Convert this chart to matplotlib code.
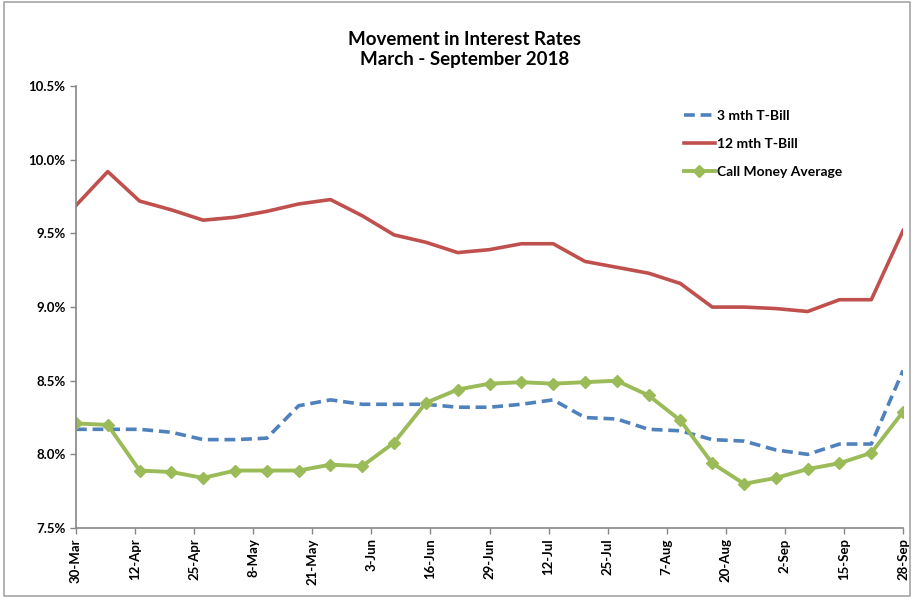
import matplotlib.pyplot as plt
import pandas as pd
from matplotlib.patches import Rectangle

plt.rcParams['font.family'] = ['Lato', 'DejaVu Sans']

dates = ["2018-03-30", "2018-04-06", "2018-04-13", "2018-04-20", "2018-04-27",
         "2018-05-04", "2018-05-11", "2018-05-18", "2018-05-25", "2018-06-01",
         "2018-06-08", "2018-06-15", "2018-06-22", "2018-06-29", "2018-07-06",
         "2018-07-13", "2018-07-20", "2018-07-27", "2018-08-03", "2018-08-10",
         "2018-08-17", "2018-08-24", "2018-08-31", "2018-09-07", "2018-09-14",
         "2018-09-21", "2018-09-28"]

tbill_3m = [8.17, 8.17, 8.17, 8.15, 8.10, 8.10, 8.11, 8.33, 8.37, 8.34,
            8.34, 8.34, 8.32, 8.32, 8.34, 8.37, 8.25, 8.24, 8.17, 8.16,
            8.10, 8.09, 8.03, 8.00, 8.07, 8.07, 8.57]

tbill_12m = [9.69, 9.92, 9.72, 9.66, 9.59, 9.61, 9.65, 9.70, 9.73, 9.62,
             9.49, 9.44, 9.37, 9.39, 9.43, 9.43, 9.31, 9.27, 9.23, 9.16,
             9.00, 9.00, 8.99, 8.97, 9.05, 9.05, 9.52]

call_money = [8.21, 8.20, 7.89, 7.88, 7.84, 7.89, 7.89, 7.89, 7.93, 7.92,
              8.08, 8.35, 8.44, 8.48, 8.49, 8.48, 8.49, 8.50, 8.40, 8.23,
              7.94, 7.80, 7.84, 7.90, 7.94, 8.01, 8.29]

tick_dates = ["2018-03-30", "2018-04-12", "2018-04-25", "2018-05-08", "2018-05-21",
              "2018-06-03", "2018-06-16", "2018-06-29", "2018-07-12", "2018-07-25",
              "2018-08-07", "2018-08-20", "2018-09-02", "2018-09-15", "2018-09-28"]
tick_labels = ["30-Mar", "12-Apr", "25-Apr", "8-May", "21-May", "3-Jun", "16-Jun",
               "29-Jun", "12-Jul", "25-Jul", "7-Aug", "20-Aug", "2-Sep", "15-Sep", "28-Sep"]

x = pd.to_datetime(dates)
xt = pd.to_datetime(tick_dates)

fig = plt.figure(figsize=(9.15, 6.03), dpi=100)
ax = fig.add_axes([0.083, 0.1244, 0.904, 0.7327])

ax.plot(x, tbill_3m, color='#4F81BD', lw=2.6, linestyle=(0, (3, 1.6)), label='3 mth T-Bill')
ax.plot(x, tbill_12m, color='#C0504D', lw=2.6, label='12 mth T-Bill')
ax.plot(x, call_money, color='#9BBB59', lw=2.8, marker='D', markersize=6,
        label='Call Money Average')

ax.set_xlim(xt[0], xt[-1])
ax.set_ylim(7.5, 10.5)
yt = [7.5, 8.0, 8.5, 9.0, 9.5, 10.0, 10.5]
ax.set_yticks(yt)
ax.set_yticklabels(["%.1f%%" % v for v in yt], fontweight='bold', fontsize=9.5)
ax.set_xticks(xt)
ax.set_xticklabels(tick_labels, rotation=90, fontweight='bold', fontsize=9.5)

for s in ['top', 'right']:
    ax.spines[s].set_visible(False)
for s in ['left', 'bottom']:
    ax.spines[s].set_color('#868686')
    ax.spines[s].set_linewidth(1.2)
ax.tick_params(axis='both', color='#868686', length=4, width=1, direction='out')

fig.text(0.508, 0.935, "Movement in Interest Rates", ha='center', va='center',
         fontsize=13.5, fontweight='bold')
fig.text(0.508, 0.902, "March - September 2018", ha='center', va='center',
         fontsize=13.5, fontweight='bold')

leg = ax.legend(loc='upper left', bbox_to_anchor=(0.72, 0.975), frameon=False,
                prop={'weight': 'bold', 'size': 10}, handlelength=2.2,
                handletextpad=0.2, labelspacing=1.15)

fig.patches.append(Rectangle((0.004, 0.012), 0.99, 0.984, transform=fig.transFigure,
                             fill=False, edgecolor='#a6a6a6', lw=1.2))

fig.savefig("out.png", dpi=100)
